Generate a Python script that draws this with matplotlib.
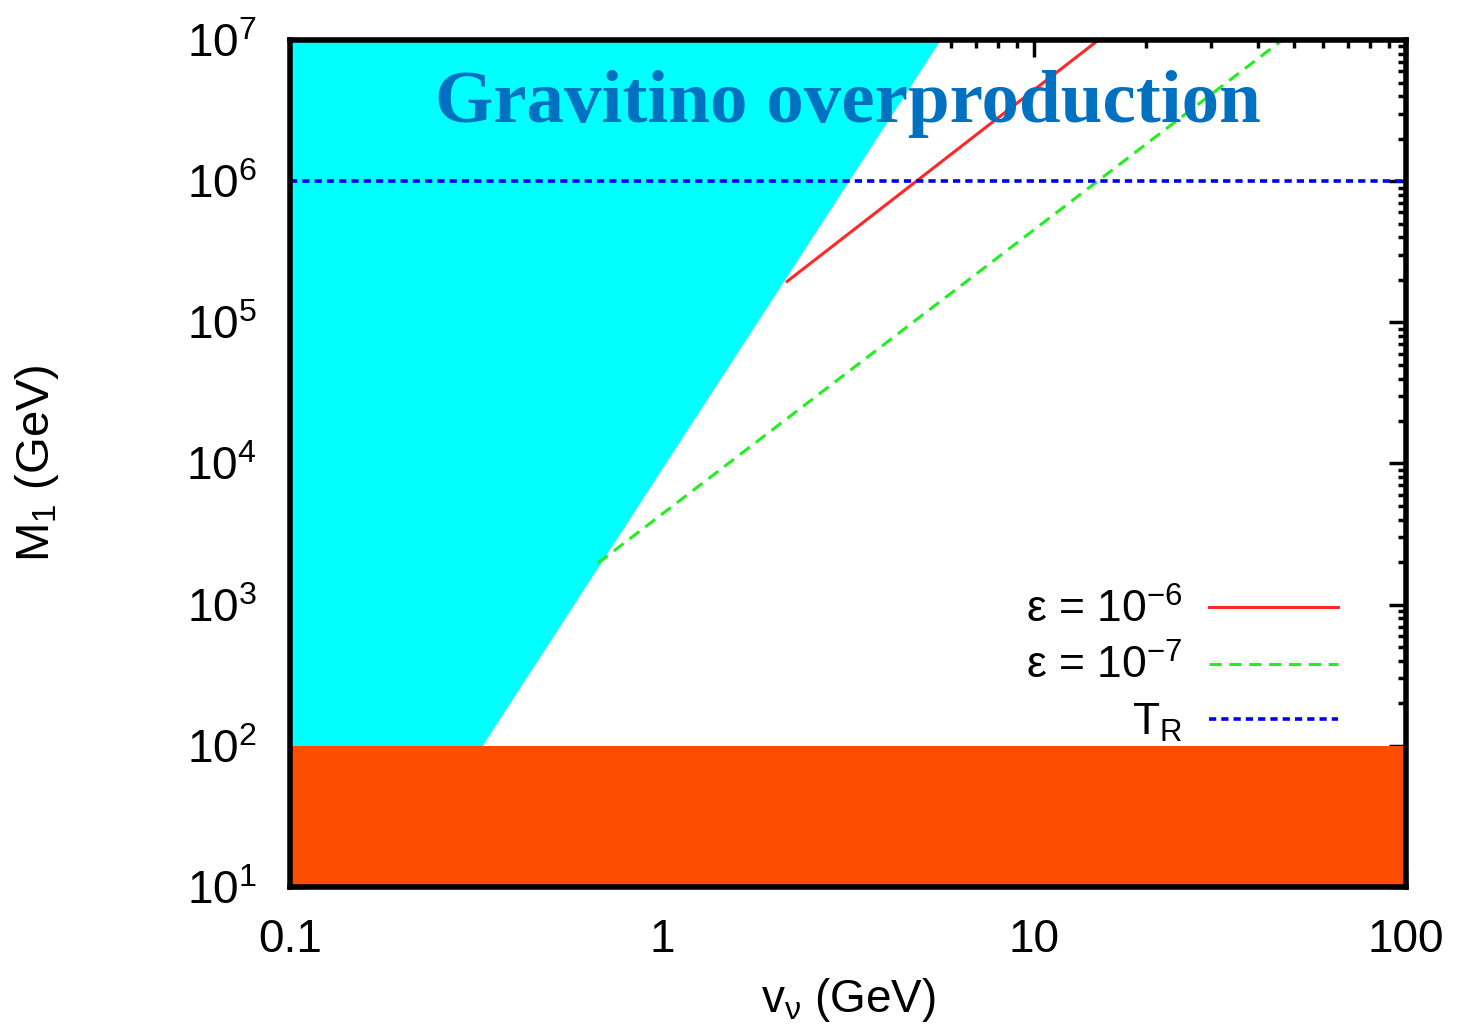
import numpy as np
import matplotlib
matplotlib.use("Agg")
import matplotlib.pyplot as plt
from matplotlib.ticker import NullFormatter

plt.rcParams['font.family'] = ['Liberation Sans', 'DejaVu Sans']
plt.rcParams['mathtext.fontset'] = 'custom'
plt.rcParams['mathtext.rm'] = 'Liberation Sans'
plt.rcParams['mathtext.it'] = 'Liberation Sans:italic'
plt.rcParams['mathtext.sf'] = 'Liberation Sans'

# Datos leidos de la figura
# region de sobreproduccion de gravitinos (borde izquierdo)
cyanM = [1e2, 1e7]
cyanV = [0.328, 5.59]
# region excluida M1 < 100 GeV
naranjaM = [10, 100]
# curvas epsilon
epsSeisV = [2.17, 14.9]
epsSeisM = [1.95e5, 1e7]
epsSieteV = [0.673, 46.5]
epsSieteM = [1.97e3, 1e7]
# temperatura de recalentamiento
TR = 1e6
xLim = [0.1, 100]
yLim = [10, 1e7]
xTicks = [0.1, 1, 10, 100]
xTickLabels = ['0.1', '1', '10', '100']
yTicks = [1e1, 1e2, 1e3, 1e4, 1e5, 1e6, 1e7]

fig = plt.figure(figsize=(14.6, 10.34), dpi=100)
ax = fig.add_axes([0.1986, 0.1422, 0.7644, 0.8191])
ax.set_xscale('log')
ax.set_yscale('log')
ax.set_xlim(xLim)
ax.set_ylim(yLim)
ax.set_axisbelow(True)

ax.fill_betweenx(cyanM, xLim[0], cyanV, color='#00FFFF', lw=0, zorder=1)
ax.fill_between(xLim, naranjaM[0], naranjaM[1], color='#FF4D00', lw=0, zorder=1)

ax.plot(epsSeisV, epsSeisM, color='#FF2828', lw=2.2, label=r'$\mathrm{ε}$ = 10$^{-6}$', zorder=3)
ax.plot(epsSieteV, epsSieteM, color='#22EE22', lw=2.2, ls=(0, (4, 2.5)), label=r'$\mathrm{ε}$ = 10$^{-7}$', zorder=3)
ax.plot(xLim, [TR, TR], color='#0000EE', lw=2.6, ls=(0, (2, 1.4)), label=r'T$_\mathrm{R}$', zorder=3)

ax.text(0.5, 0.925, 'Gravitino overproduction', transform=ax.transAxes, ha='center', va='center',
        fontsize=54, fontweight='bold', family='Liberation Serif', color='#0070C0', zorder=4)

leg = ax.legend(loc='lower right', bbox_to_anchor=(0.975, 0.122), frameon=False, markerfirst=False,
                fontsize=32, handlelength=2.9, handletextpad=0.6, labelspacing=0.3)

for s in ax.spines.values():
    s.set_linewidth(4)
    s.set_zorder(5)
ax.tick_params(which='both', direction='in', top=True, right=True, width=2.5, labelsize=33)
ax.tick_params(which='major', length=12)
ax.tick_params(which='minor', length=6)
ax.tick_params(axis='x', pad=22)
ax.tick_params(axis='y', pad=24)
ax.set_xticks(xTicks)
ax.set_xticklabels(xTickLabels)
ax.set_yticks(yTicks)
ax.set_yticklabels([r'10$^{%d}$' % int(np.log10(t)) for t in yTicks])
ax.xaxis.set_minor_formatter(NullFormatter())
ax.yaxis.set_minor_formatter(NullFormatter())

ax.set_xlabel(r'v$_{\mathrm{ν}}$ (GeV)', fontsize=33)
ax.set_ylabel(r'M$_1$ (GeV)', fontsize=34)
ax.xaxis.set_label_coords(0.5, -0.105)
ax.yaxis.set_label_coords(-0.205, 0.5)

fig.savefig('out.png', dpi=100)
